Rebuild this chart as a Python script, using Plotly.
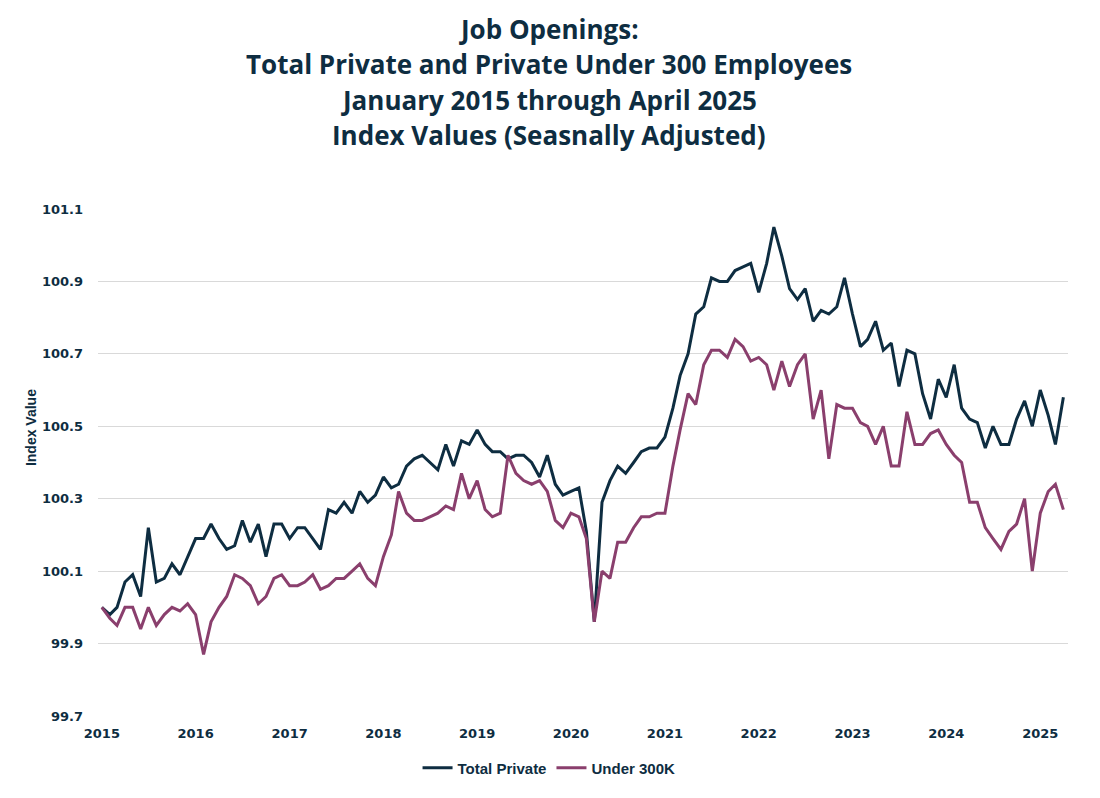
import pandas as pd
import plotly.graph_objects as go

# monthly, Jan 2015 .. Apr 2025
months = pd.date_range("2015-01-01", "2025-04-01", freq="MS")

total_private = [
    100.00, 99.98, 100.00, 100.07, 100.09, 100.03, 100.22, 100.07, 100.08, 100.12, 100.09, 100.14,
    100.19, 100.19, 100.23, 100.19, 100.16, 100.17, 100.24, 100.18, 100.23, 100.14, 100.23, 100.23,
    100.19, 100.22, 100.22, 100.19, 100.16, 100.27, 100.26, 100.29, 100.26, 100.32, 100.29, 100.31,
    100.36, 100.33, 100.34, 100.39, 100.41, 100.42, 100.40, 100.38, 100.45, 100.39, 100.46, 100.45,
    100.49, 100.45, 100.43, 100.43, 100.41, 100.42, 100.42, 100.40, 100.36, 100.42, 100.34, 100.31,
    100.32, 100.33, 100.21, 99.96, 100.29, 100.35, 100.39, 100.37, 100.40, 100.43, 100.44, 100.44,
    100.47, 100.55, 100.64, 100.70, 100.81, 100.83, 100.91, 100.90, 100.90, 100.93, 100.94, 100.95,
    100.87, 100.95, 101.05, 100.97, 100.88, 100.85, 100.88, 100.79, 100.82, 100.81, 100.83, 100.91,
    100.81, 100.72, 100.74, 100.79, 100.71, 100.73, 100.61, 100.71, 100.70, 100.59, 100.52, 100.63,
    100.58, 100.67, 100.55, 100.52, 100.51, 100.44, 100.50, 100.45, 100.45, 100.52, 100.57, 100.50,
    100.60, 100.53, 100.45, 100.58,
]

under_300k = [
    100.00, 99.97, 99.95, 100.00, 100.00, 99.94, 100.00, 99.95, 99.98, 100.00, 99.99, 100.01,
    99.98, 99.87, 99.96, 100.00, 100.03, 100.09, 100.08, 100.06, 100.01, 100.03, 100.08, 100.09,
    100.06, 100.06, 100.07, 100.09, 100.05, 100.06, 100.08, 100.08, 100.10, 100.12, 100.08, 100.06,
    100.14, 100.20, 100.32, 100.26, 100.24, 100.24, 100.25, 100.26, 100.28, 100.27, 100.37, 100.30,
    100.35, 100.27, 100.25, 100.26, 100.42, 100.37, 100.35, 100.34, 100.35, 100.32, 100.24, 100.22,
    100.26, 100.25, 100.19, 99.96, 100.10, 100.08, 100.18, 100.18, 100.22, 100.25, 100.25, 100.26,
    100.26, 100.39, 100.49, 100.59, 100.56, 100.67, 100.71, 100.71, 100.69, 100.74, 100.72, 100.68,
    100.69, 100.67, 100.60, 100.68, 100.61, 100.67, 100.70, 100.52, 100.60, 100.41, 100.56, 100.55,
    100.55, 100.51, 100.50, 100.45, 100.50, 100.39, 100.39, 100.54, 100.45, 100.45, 100.48, 100.49,
    100.45, 100.42, 100.40, 100.29, 100.29, 100.22, 100.19, 100.16, 100.21, 100.23, 100.30, 100.10,
    100.26, 100.32, 100.34, 100.27,
]

title_lines = [
    "Job Openings:",
    "Total Private and Private Under 300 Employees",
    "January 2015 through April 2025",
    "Index Values (Seasnally Adjusted)",
]

navy = "#0e2d41"
plum = "#8a3f6d"

fig = go.Figure()
fig.add_trace(go.Scatter(x=months, y=total_private, mode="lines", name="Total Private",
                         line=dict(color=navy, width=3)))
fig.add_trace(go.Scatter(x=months, y=under_300k, mode="lines", name="Under 300K",
                         line=dict(color=plum, width=3)))

# title lines as annotations so the line spacing can follow the original
for k, txt in enumerate(title_lines):
    fig.add_annotation(text="<b>" + txt + "</b>", xref="paper", yref="paper",
                       x=0.465, y=1.355 - k * 0.0697, showarrow=False,
                       xanchor="center", yanchor="middle",
                       font=dict(family="Open Sans", size=26, color=navy))

# y axis title sits a bit above the middle in the original
fig.add_annotation(text="<b>Index Value</b>", xref="paper", yref="paper",
                   x=-0.069, y=0.568, showarrow=False, textangle=-90,
                   xanchor="center", yanchor="middle",
                   font=dict(family="Liberation Sans", size=14, color=navy))

# page body adds 8px on the left/top, so the figure is drawn 8px smaller
fig.update_layout(
    width=1092, height=790,
    paper_bgcolor="white", plot_bgcolor="white",
    margin=dict(l=90, r=32, t=201, b=82),
    font=dict(family="Liberation Sans", color=navy),
    showlegend=True,
    legend=dict(orientation="h", x=0.465, xanchor="center", y=-0.07, yanchor="top",
                font=dict(family="Liberation Sans", size=15, color=navy, weight="bold"),
                itemwidth=30, tracegroupgap=0),
)
fig.update_xaxes(
    range=["2014-12-17", "2025-04-19"], automargin=False,
    dtick="M12", tick0="2015-01-01", tickformat="%Y",
    showgrid=False, showline=False, zeroline=False, ticks="", ticklabelstandoff=8,
    tickfont=dict(family="DejaVu Sans", size=13, color=navy, weight="bold"),
)
fig.update_yaxes(
    range=[99.7, 101.1], dtick=0.2, tick0=99.7, tickformat=".1f", automargin=False,
    showgrid=True, gridcolor="#d9d9d9", gridwidth=1,
    zeroline=False, showline=False, ticks="", ticklabelstandoff=14,
    tickfont=dict(family="DejaVu Sans", size=13, color=navy, weight="bold"),
)

fig.write_html("out.html")
